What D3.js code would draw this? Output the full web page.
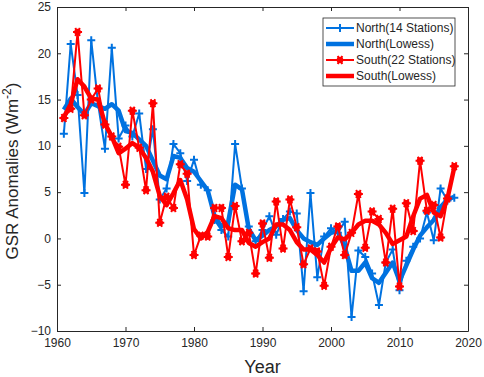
<!DOCTYPE html>
<html>
<head>
<meta charset="utf-8">
<script src="https://cdn.jsdelivr.net/npm/d3@7"></script>
<style>
  body { margin: 0; background: #fff; }
  text { font-family: "Liberation Sans", Arial, sans-serif; fill: #262626; }
</style>
</head>
<body>
<div id="chart"></div>
<script>
// data
var years = d3.range(1961, 2019);
var northRaw = [11.3, 21.0, 15.5, 4.9, 21.4, 14.5, 9.7, 20.6, 10.8, 12.2,
    11.0, 13.5, 7.5, 11.8, 4.2, 5.4, 10.2, 9.2, 6.2, 8.5,
    5.8, 5.2, 2.0, 0.9, 0.2, 10.2, 5.4, 1.3, -0.3, 0.9,
    2.4, 0.4, 2.1, 2.9, 2.7, -5.7, 4.9, -4.2, 0.2, 1.1,
    0.6, 1.8, -8.5, -1.3, -2.0, -3.8, -7.2, -2.6, -1.2, -5.6,
    -2.4, -0.9, 0.0, 2.8, -0.2, 5.4, 4.1, 4.4];
var northLowess = [13.9, 15.1, 14.2, 13.4, 14.6, 14.3, 14.0, 14.5, 13.8, 11.6,
    11.4, 10.7, 10.0, 8.4, 6.8, 6.4, 8.9, 8.7, 7.6, 7.2,
    6.2, 5.2, 2.4, 1.3, 1.8, 5.8, 5.3, 1.0, -0.2, 0.3,
    0.9, 1.3, 2.0, 2.2, 0.9, 0.0, -0.4, -0.7, 0.0, 0.6,
    0.8, -0.9, -3.5, -3.5, -2.6, -4.3, -4.8, -3.7, -2.6, -4.6,
    -2.9, -1.2, 0.3, 1.2, 2.0, 3.4, 4.2, 4.5];
var southRaw = [13.0, 14.0, 22.3, 13.3, 15.0, 16.2, 12.3, 11.0, 9.9, 5.8,
    13.8, 9.8, 5.2, 14.6, 1.7, 4.5, 3.3, 8.0, 7.0, -1.8,
    0.3, 0.2, 3.3, 3.3, -2.0, 3.5, -0.3, 0.6, -3.8, 1.6,
    -2.1, 4.0, -1.1, 4.2, 1.2, -2.8, -1.1, -1.4, -5.1, -0.9,
    1.3, -1.8, 0.6, 4.8, -1.0, 2.9, 2.1, -2.6, 3.2, -5.2,
    3.8, 0.8, 8.4, 3.0, 3.6, 0.1, 4.3, 7.8];
var southLowess = [13.1, 14.5, 17.2, 16.4, 15.1, 15.0, 12.4, 11.0, 9.2, 9.7,
    10.3, 9.8, 8.7, 7.2, 4.6, 3.6, 4.9, 6.3, 4.2, 1.0,
    0.0, 0.7, 2.4, 2.2, 1.1, 0.9, 0.9, -0.5, -0.9, -0.4,
    0.0, 1.5, 1.5, 0.9, -0.4, -1.2, -1.2, -1.8, -2.6, -1.0,
    0.1, -0.1, 0.6, 1.5, 1.9, 1.9, 1.5, 0.6, -0.6, -0.2,
    0.2, 2.4, 4.3, 4.7, 2.8, 2.4, 4.3, 7.7];
var xTicks = [1960, 1970, 1980, 1990, 2000, 2010, 2020];
var yTicks = [-10, -5, 0, 5, 10, 15, 20, 25];
var legendNames = ["North(14 Stations)", "North(Lowess)", "South(22 Stations)", "South(Lowess)"];

var blue = "#0072e0", red = "#ff0000", axisColor = "#262626";

var margin = {top: 7, right: 16, bottom: 46, left: 57},
    width = 484 - margin.left - margin.right,
    height = 377 - margin.top - margin.bottom;

var svg = d3.select("#chart")
    .append("svg")
    .attr("width", 484)
    .attr("height", 377)
    .append("g")
    .attr("transform", "translate(" + margin.left + "," + margin.top + ")");

var x = d3.scaleLinear().domain([1960, 2020]).range([0, width]);
var y = d3.scaleLinear().domain([-10, 25]).range([height, 0]);

// axes, MATLAB style with inward ticks on all sides
function styleAxis(g) {
    g.select(".domain").attr("stroke", axisColor);
    g.selectAll(".tick line").attr("stroke", axisColor);
    g.selectAll(".tick text").style("font-size", "12px").attr("fill", axisColor);
}
svg.append("g")
    .attr("transform", "translate(0," + height + ")")
    .call(d3.axisBottom(x).tickValues(xTicks).tickFormat(d3.format("d")).tickSizeInner(-4).tickSizeOuter(0).tickPadding(7))
    .call(styleAxis);
svg.append("g")
    .call(d3.axisTop(x).tickValues(xTicks).tickFormat("").tickSizeInner(-4).tickSizeOuter(0))
    .call(styleAxis);
svg.append("g")
    .call(d3.axisLeft(y).tickValues(yTicks).tickSizeInner(-4).tickSizeOuter(0).tickPadding(6))
    .call(styleAxis);
svg.append("g")
    .attr("transform", "translate(" + width + ",0)")
    .call(d3.axisRight(y).tickValues(yTicks).tickFormat("").tickSizeInner(-4).tickSizeOuter(0))
    .call(styleAxis);

// axis labels
svg.append("text")
    .attr("x", width / 2)
    .attr("y", height + 42)
    .attr("text-anchor", "middle")
    .style("font-size", "18px")
    .text("Year");
var yl = svg.append("text")
    .attr("transform", "translate(-39," + (height / 2 + 2) + ") rotate(-90)")
    .attr("text-anchor", "middle")
    .style("font-size", "17px");
yl.append("tspan").text("GSR Anomalies (Wm");
yl.append("tspan").attr("dy", -7).style("font-size", "12px").text("-2");
yl.append("tspan").attr("dy", 7).text(")");

var line = d3.line()
    .x(function (d) { return x(d[0]); })
    .y(function (d) { return y(d[1]); });

function pairs(vals) {
    return years.map(function (yr, i) { return [yr, vals[i]]; });
}

var plusPath = "M-4,0H4M0,-4V4";
var starPath = "M-4.5,0H4.5M-2.3,-4L2.3,4M-2.3,4L2.3,-4";

function drawRaw(vals, color, marker) {
    svg.append("path")
        .datum(pairs(vals))
        .attr("fill", "none")
        .attr("stroke", color)
        .attr("stroke-width", 2)
        .attr("d", line);
    var m = svg.append("g").selectAll("g")
        .data(pairs(vals))
        .enter().append("g")
        .attr("transform", function (d) {
            return "translate(" + x(d[0]) + "," + y(d[1]) + ")";
        });
    m.append("path")
        .attr("d", marker)
        .attr("stroke", color)
        .attr("stroke-width", 2)
        .attr("fill", "none");
    if (marker === starPath) {
        m.append("circle").attr("r", 3.3).attr("fill", color);
    }
}
function drawSmooth(vals, color) {
    svg.append("path")
        .datum(pairs(vals))
        .attr("fill", "none")
        .attr("stroke", color)
        .attr("stroke-width", 4.5)
        .attr("stroke-linejoin", "round")
        .attr("d", line);
}

drawRaw(northRaw, blue, plusPath);
drawSmooth(northLowess, blue);
drawRaw(southRaw, red, starPath);
drawSmooth(southLowess, red);

// legend
var lg = svg.append("g").attr("transform", "translate(" + (323 - margin.left) + "," + (18 - margin.top) + ")");
lg.append("rect")
    .attr("width", 132).attr("height", 68)
    .attr("fill", "#fff").attr("stroke", axisColor).attr("stroke-width", 0.8);
legendNames.forEach(function (name, i) {
    var color = i < 2 ? blue : red;
    var row = lg.append("g").attr("transform", "translate(0," + (10 + i * 16) + ")");
    row.append("line")
        .attr("x1", 3).attr("x2", 31)
        .attr("stroke", color)
        .attr("stroke-width", i % 2 === 0 ? 2 : 4.5);
    if (i === 0) {
        row.append("path").attr("d", plusPath).attr("transform", "translate(17,0)")
            .attr("stroke", color).attr("stroke-width", 2);
    }
    if (i === 2) {
        row.append("path").attr("d", starPath).attr("transform", "translate(17,0)")
            .attr("stroke", color).attr("stroke-width", 2);
        row.append("circle").attr("cx", 17).attr("r", 3.3).attr("fill", color);
    }
    row.append("text")
        .attr("x", 33).attr("dy", "0.35em")
        .style("font-size", "12px")
        .text(name);
});
</script>
</body>
</html>
